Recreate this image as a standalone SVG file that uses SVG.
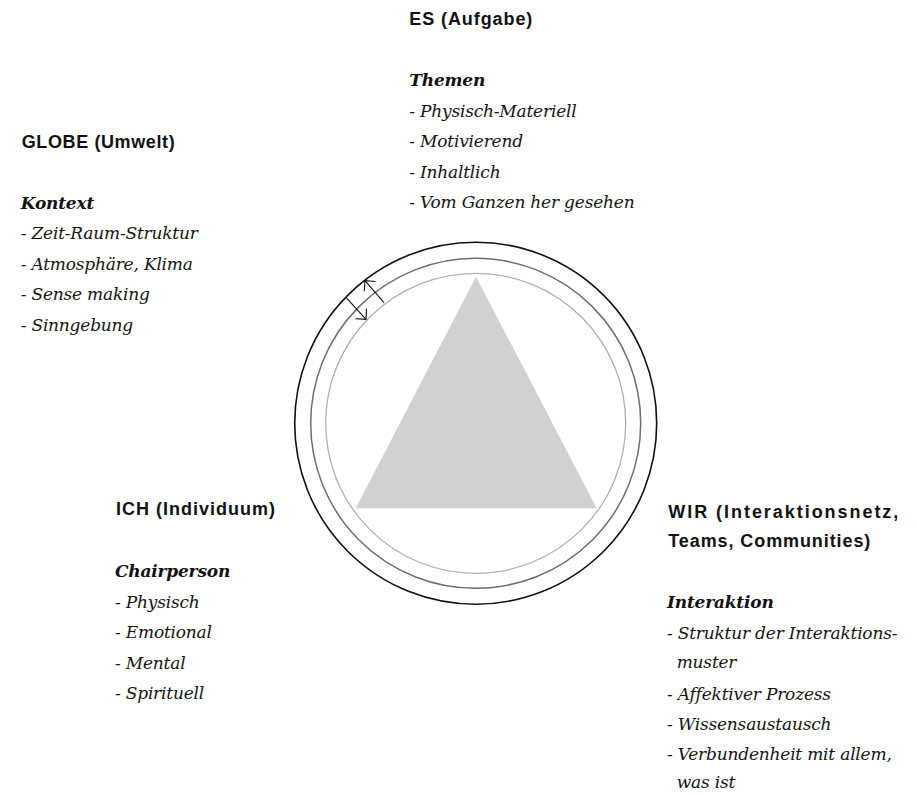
<svg xmlns="http://www.w3.org/2000/svg" width="917" height="795" viewBox="0 0 917 795">
<style>
.h{font-family:"Liberation Sans",Arial,sans-serif;font-weight:bold;font-size:18px;fill:#111;}
.t{font-family:"DejaVu Serif","Liberation Serif",serif;font-style:italic;font-size:17px;letter-spacing:-0.2px;fill:#141414;}
.tb{font-family:"DejaVu Serif","Liberation Serif",serif;font-style:italic;font-weight:bold;font-size:17px;letter-spacing:-0.2px;fill:#111;}
.arr{stroke:#111;stroke-width:1.1;fill:none;marker-end:url(#ah);}
</style>
<defs>
<marker id="ah" markerUnits="userSpaceOnUse" markerWidth="20" markerHeight="20" viewBox="-10 -10 20 20" refX="0" refY="0" orient="auto">
<path d="M-7.5,-7.5 L0,0 L-7.5,7.5" fill="none" stroke="#111" stroke-width="1.1"/>
</marker>
</defs>
<rect width="917" height="795" fill="#fff"/>
<g id="center">
<circle cx="475.7" cy="423.3" r="181" fill="none" stroke="#111" stroke-width="1.6"/>
<circle cx="475.7" cy="423.3" r="165" fill="none" stroke="#6e6e6e" stroke-width="1.5"/>
<circle cx="475.7" cy="423.3" r="150" fill="none" stroke="#b0b0b0" stroke-width="1.3"/>
<polygon points="476,276.7 596.7,508.3 355.7,508.3" fill="#d1d1d1"/>
</g>
<g id="connectors">
<line class="arr" x1="346" y1="297.3" x2="366" y2="319.3"/>
<line class="arr" x1="384" y1="302.7" x2="365" y2="280.7"/>
</g>
<g id="node-es">
<text class="h" x="409.3" y="25" textLength="123" lengthAdjust="spacing">ES (Aufgabe)</text>
<text class="tb" x="409.3" y="86">Themen</text>
<text class="t" x="409.3" y="116.7">- Physisch-Materiell</text>
<text class="t" x="409.3" y="147.3">- Motivierend</text>
<text class="t" x="409.3" y="177.7">- Inhaltlich</text>
<text class="t" x="409.3" y="208.3">- Vom Ganzen her gesehen</text>
</g>
<g id="node-globe">
<text class="h" x="21.7" y="148.3" textLength="153" lengthAdjust="spacing">GLOBE (Umwelt)</text>
<text class="tb" x="20.7" y="209.3">Kontext</text>
<text class="t" x="20.7" y="239.3">- Zeit-Raum-Struktur</text>
<text class="t" x="20.7" y="270">- Atmosphäre, Klima</text>
<text class="t" x="20.7" y="300.3">- Sense making</text>
<text class="t" x="20.7" y="330.7">- Sinngebung</text>
</g>
<g id="node-ich">
<text class="h" x="116" y="515" textLength="159" lengthAdjust="spacing">ICH (Individuum)</text>
<text class="tb" x="115" y="576.7">Chairperson</text>
<text class="t" x="115" y="607.7">- Physisch</text>
<text class="t" x="115" y="638.3">- Emotional</text>
<text class="t" x="115" y="668.7">- Mental</text>
<text class="t" x="115" y="699">- Spirituell</text>
</g>
<g id="node-wir">
<text class="h" x="668.3" y="518.3" textLength="230" lengthAdjust="spacing">WIR (Interaktionsnetz,</text>
<text class="h" x="668.3" y="546.7" textLength="202" lengthAdjust="spacing">Teams, Communities)</text>
<text class="tb" x="667" y="608.3">Interaktion</text>
<text class="t" x="667" y="639.3">- Struktur der Interaktions-</text>
<text class="t" x="676.7" y="668.3">muster</text>
<text class="t" x="667" y="700">- Affektiver Prozess</text>
<text class="t" x="667" y="730">- Wissensaustausch</text>
<text class="t" x="667" y="760">- Verbundenheit mit allem,</text>
<text class="t" x="676.7" y="788.3">was ist</text>
</g>
</svg>
